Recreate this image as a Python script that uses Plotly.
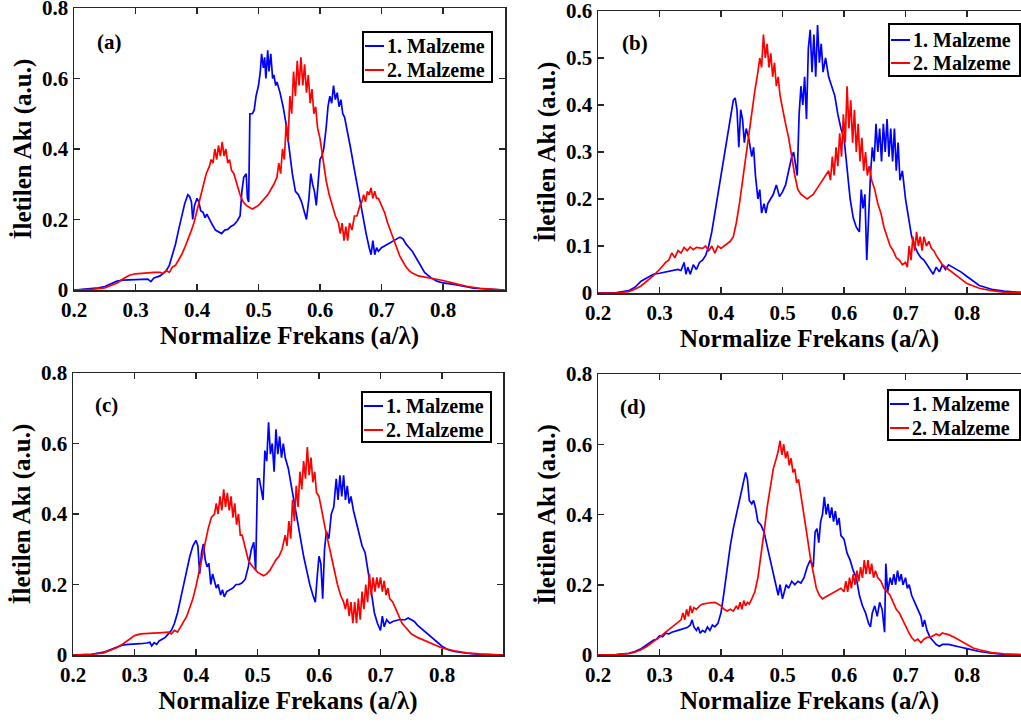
import plotly.graph_objects as go

# ---------------- data ----------------
A_BLUE = [(0.20,0),(0.22,0.002),(0.24,0.006),(0.25,0.01),(0.26,0.018),(0.27,0.025),(0.28,0.028),(0.30,0.03),(0.31,0.03),(0.32,0.031),(0.325,0.024),(0.33,0.034),(0.34,0.04),(0.35,0.055),(0.355,0.07),(0.36,0.10),(0.365,0.13),(0.37,0.17),(0.375,0.21),(0.38,0.245),(0.385,0.27),(0.388,0.265),(0.391,0.25),(0.393,0.20),(0.396,0.24),(0.40,0.26),(0.403,0.25),(0.406,0.225),(0.41,0.22),(0.413,0.205),(0.416,0.215),(0.42,0.20),(0.425,0.185),(0.43,0.17),(0.435,0.165),(0.44,0.16),(0.445,0.17),(0.45,0.172),(0.455,0.18),(0.46,0.185),(0.465,0.195),(0.47,0.21),(0.473,0.28),(0.476,0.32),(0.48,0.33),(0.482,0.26),(0.484,0.25),(0.486,0.50),(0.49,0.50),(0.493,0.51),(0.496,0.55),(0.50,0.58),(0.503,0.62),(0.505,0.67),(0.508,0.63),(0.51,0.66),(0.512,0.60),(0.515,0.68),(0.517,0.62),(0.52,0.67),(0.523,0.60),(0.525,0.61),(0.528,0.58),(0.53,0.59),(0.535,0.56),(0.54,0.52),(0.545,0.47),(0.55,0.40),(0.555,0.33),(0.56,0.28),(0.565,0.27),(0.57,0.25),(0.575,0.22),(0.578,0.20),(0.582,0.26),(0.585,0.33),(0.588,0.30),(0.591,0.28),(0.594,0.24),(0.597,0.30),(0.60,0.37),(0.603,0.38),(0.606,0.40),(0.61,0.46),(0.613,0.52),(0.616,0.55),(0.619,0.53),(0.622,0.58),(0.625,0.54),(0.628,0.56),(0.631,0.52),(0.634,0.54),(0.637,0.50),(0.64,0.49),(0.645,0.45),(0.65,0.40),(0.655,0.35),(0.66,0.30),(0.665,0.25),(0.67,0.20),(0.675,0.16),(0.68,0.12),(0.683,0.10),(0.686,0.14),(0.689,0.10),(0.692,0.12),(0.695,0.11),(0.70,0.12),(0.705,0.125),(0.71,0.13),(0.715,0.135),(0.72,0.14),(0.725,0.145),(0.73,0.15),(0.735,0.145),(0.74,0.13),(0.745,0.12),(0.75,0.11),(0.76,0.08),(0.77,0.05),(0.78,0.035),(0.79,0.025),(0.80,0.02),(0.82,0.015),(0.85,0.005),(0.88,0.001),(0.90,0)]

A_RED = [(0.20,0),(0.23,0.002),(0.25,0.006),(0.26,0.012),(0.27,0.02),(0.28,0.032),(0.29,0.042),(0.30,0.046),(0.31,0.048),(0.32,0.049),(0.33,0.05),(0.34,0.05),(0.345,0.047),(0.35,0.055),(0.355,0.05),(0.36,0.065),(0.365,0.07),(0.37,0.085),(0.375,0.10),(0.38,0.12),(0.385,0.14),(0.39,0.165),(0.395,0.19),(0.40,0.225),(0.405,0.26),(0.41,0.295),(0.415,0.33),(0.42,0.35),(0.423,0.37),(0.426,0.36),(0.429,0.40),(0.432,0.37),(0.435,0.41),(0.438,0.38),(0.441,0.42),(0.444,0.38),(0.447,0.40),(0.45,0.36),(0.453,0.37),(0.456,0.34),(0.46,0.33),(0.465,0.30),(0.47,0.27),(0.475,0.25),(0.48,0.24),(0.485,0.235),(0.49,0.23),(0.495,0.235),(0.50,0.24),(0.505,0.25),(0.51,0.26),(0.515,0.27),(0.52,0.285),(0.525,0.30),(0.53,0.32),(0.533,0.36),(0.536,0.33),(0.539,0.40),(0.542,0.37),(0.545,0.47),(0.548,0.42),(0.551,0.55),(0.554,0.50),(0.557,0.62),(0.56,0.55),(0.563,0.65),(0.566,0.58),(0.569,0.66),(0.572,0.58),(0.575,0.64),(0.578,0.56),(0.581,0.61),(0.584,0.53),(0.587,0.57),(0.59,0.50),(0.593,0.52),(0.596,0.46),(0.60,0.43),(0.605,0.37),(0.61,0.31),(0.615,0.27),(0.62,0.24),(0.625,0.21),(0.63,0.19),(0.633,0.16),(0.636,0.19),(0.639,0.14),(0.642,0.18),(0.645,0.14),(0.648,0.19),(0.652,0.17),(0.656,0.21),(0.66,0.21),(0.665,0.24),(0.668,0.25),(0.671,0.27),(0.674,0.25),(0.677,0.28),(0.68,0.27),(0.683,0.29),(0.686,0.26),(0.689,0.28),(0.692,0.26),(0.695,0.26),(0.70,0.24),(0.705,0.22),(0.71,0.19),(0.715,0.165),(0.72,0.14),(0.725,0.115),(0.73,0.095),(0.735,0.08),(0.74,0.065),(0.745,0.055),(0.75,0.048),(0.76,0.04),(0.77,0.037),(0.78,0.034),(0.79,0.031),(0.80,0.027),(0.82,0.018),(0.84,0.01),(0.86,0.005),(0.88,0.002),(0.90,0)]

B_BLUE = [(0.20,0),(0.23,0.001),(0.25,0.005),(0.26,0.012),(0.27,0.025),(0.28,0.033),(0.29,0.04),(0.30,0.042),(0.31,0.045),(0.32,0.047),(0.33,0.05),(0.335,0.048),(0.34,0.065),(0.343,0.04),(0.346,0.055),(0.35,0.04),(0.355,0.06),(0.36,0.05),(0.365,0.065),(0.37,0.07),(0.375,0.08),(0.38,0.10),(0.385,0.13),(0.39,0.17),(0.395,0.21),(0.40,0.25),(0.405,0.29),(0.41,0.33),(0.415,0.37),(0.42,0.41),(0.423,0.415),(0.426,0.39),(0.429,0.31),(0.432,0.39),(0.435,0.37),(0.438,0.32),(0.441,0.35),(0.445,0.33),(0.45,0.29),(0.453,0.31),(0.456,0.25),(0.46,0.20),(0.463,0.22),(0.466,0.17),(0.47,0.19),(0.473,0.17),(0.476,0.19),(0.48,0.20),(0.485,0.21),(0.49,0.23),(0.495,0.205),(0.50,0.215),(0.505,0.23),(0.51,0.26),(0.515,0.29),(0.518,0.30),(0.521,0.27),(0.524,0.25),(0.527,0.38),(0.53,0.44),(0.533,0.40),(0.536,0.46),(0.539,0.37),(0.542,0.52),(0.545,0.56),(0.548,0.47),(0.551,0.55),(0.554,0.46),(0.557,0.57),(0.56,0.49),(0.563,0.53),(0.566,0.47),(0.57,0.50),(0.575,0.46),(0.58,0.44),(0.585,0.42),(0.59,0.38),(0.595,0.35),(0.60,0.33),(0.605,0.27),(0.61,0.20),(0.615,0.16),(0.62,0.14),(0.625,0.13),(0.628,0.22),(0.631,0.18),(0.634,0.21),(0.637,0.07),(0.64,0.17),(0.643,0.25),(0.646,0.31),(0.649,0.28),(0.652,0.36),(0.655,0.30),(0.658,0.35),(0.661,0.28),(0.664,0.36),(0.667,0.30),(0.67,0.37),(0.673,0.29),(0.676,0.35),(0.679,0.28),(0.682,0.35),(0.685,0.26),(0.688,0.32),(0.691,0.24),(0.695,0.26),(0.70,0.20),(0.705,0.16),(0.71,0.12),(0.715,0.10),(0.72,0.085),(0.725,0.075),(0.73,0.07),(0.735,0.06),(0.74,0.05),(0.745,0.04),(0.75,0.055),(0.755,0.045),(0.76,0.06),(0.765,0.05),(0.77,0.06),(0.78,0.052),(0.79,0.045),(0.80,0.035),(0.81,0.025),(0.82,0.016),(0.84,0.008),(0.86,0.004),(0.88,0.002),(0.90,0)]

B_RED = [(0.20,0),(0.23,0.0),(0.25,0.003),(0.26,0.008),(0.27,0.015),(0.28,0.025),(0.29,0.037),(0.30,0.05),(0.31,0.065),(0.315,0.07),(0.32,0.085),(0.325,0.075),(0.33,0.09),(0.335,0.085),(0.34,0.097),(0.345,0.09),(0.35,0.098),(0.355,0.092),(0.36,0.097),(0.37,0.095),(0.375,0.10),(0.38,0.09),(0.385,0.10),(0.39,0.085),(0.395,0.10),(0.40,0.095),(0.405,0.10),(0.41,0.105),(0.415,0.11),(0.42,0.12),(0.425,0.15),(0.43,0.19),(0.435,0.24),(0.44,0.29),(0.445,0.34),(0.45,0.39),(0.455,0.43),(0.46,0.47),(0.463,0.50),(0.466,0.48),(0.469,0.55),(0.472,0.50),(0.475,0.53),(0.478,0.48),(0.481,0.51),(0.484,0.46),(0.487,0.49),(0.49,0.44),(0.493,0.46),(0.496,0.42),(0.50,0.39),(0.505,0.36),(0.51,0.33),(0.515,0.29),(0.52,0.25),(0.525,0.22),(0.53,0.21),(0.535,0.205),(0.54,0.20),(0.545,0.205),(0.55,0.21),(0.555,0.22),(0.56,0.23),(0.565,0.24),(0.57,0.25),(0.575,0.26),(0.578,0.24),(0.581,0.29),(0.584,0.25),(0.587,0.31),(0.59,0.27),(0.593,0.34),(0.596,0.29),(0.599,0.38),(0.602,0.32),(0.605,0.44),(0.608,0.35),(0.611,0.41),(0.614,0.32),(0.617,0.39),(0.62,0.30),(0.623,0.36),(0.626,0.28),(0.629,0.33),(0.632,0.26),(0.635,0.30),(0.638,0.25),(0.641,0.27),(0.645,0.24),(0.65,0.22),(0.655,0.19),(0.66,0.17),(0.665,0.14),(0.67,0.12),(0.675,0.10),(0.68,0.09),(0.685,0.075),(0.69,0.07),(0.695,0.06),(0.70,0.065),(0.703,0.055),(0.706,0.10),(0.709,0.07),(0.712,0.12),(0.715,0.09),(0.718,0.13),(0.721,0.10),(0.724,0.12),(0.727,0.09),(0.73,0.12),(0.734,0.10),(0.738,0.11),(0.742,0.095),(0.746,0.09),(0.75,0.08),(0.76,0.06),(0.77,0.05),(0.78,0.04),(0.79,0.03),(0.80,0.02),(0.82,0.01),(0.84,0.005),(0.86,0.002),(0.90,0)]

C_BLUE = [(0.20,0),(0.23,0.002),(0.25,0.008),(0.26,0.015),(0.27,0.023),(0.28,0.028),(0.29,0.03),(0.30,0.03),(0.31,0.032),(0.32,0.034),(0.325,0.036),(0.328,0.026),(0.332,0.035),(0.336,0.03),(0.34,0.04),(0.345,0.045),(0.35,0.05),(0.355,0.06),(0.36,0.07),(0.365,0.09),(0.37,0.12),(0.375,0.16),(0.38,0.20),(0.385,0.24),(0.39,0.28),(0.395,0.31),(0.40,0.325),(0.403,0.31),(0.406,0.23),(0.409,0.29),(0.412,0.315),(0.415,0.27),(0.418,0.25),(0.421,0.26),(0.424,0.20),(0.427,0.23),(0.43,0.21),(0.433,0.19),(0.436,0.20),(0.44,0.17),(0.443,0.185),(0.446,0.165),(0.45,0.18),(0.455,0.185),(0.46,0.19),(0.465,0.20),(0.47,0.20),(0.475,0.205),(0.48,0.215),(0.485,0.25),(0.49,0.30),(0.494,0.32),(0.497,0.24),(0.50,0.50),(0.503,0.50),(0.506,0.47),(0.509,0.44),(0.512,0.58),(0.515,0.55),(0.518,0.66),(0.521,0.57),(0.524,0.60),(0.527,0.52),(0.53,0.64),(0.533,0.57),(0.536,0.62),(0.539,0.56),(0.542,0.60),(0.545,0.56),(0.55,0.53),(0.555,0.48),(0.56,0.42),(0.565,0.37),(0.57,0.32),(0.575,0.28),(0.58,0.24),(0.585,0.20),(0.59,0.17),(0.594,0.15),(0.597,0.22),(0.60,0.28),(0.603,0.26),(0.606,0.16),(0.609,0.30),(0.612,0.35),(0.616,0.33),(0.62,0.40),(0.624,0.42),(0.628,0.50),(0.631,0.44),(0.634,0.51),(0.637,0.45),(0.64,0.51),(0.643,0.44),(0.646,0.48),(0.649,0.43),(0.652,0.45),(0.656,0.41),(0.66,0.38),(0.665,0.34),(0.67,0.31),(0.675,0.29),(0.68,0.24),(0.685,0.18),(0.69,0.12),(0.695,0.09),(0.70,0.07),(0.703,0.11),(0.706,0.08),(0.71,0.10),(0.715,0.09),(0.72,0.095),(0.73,0.10),(0.74,0.10),(0.745,0.105),(0.75,0.10),(0.755,0.095),(0.76,0.085),(0.77,0.07),(0.78,0.055),(0.79,0.04),(0.80,0.025),(0.81,0.015),(0.82,0.01),(0.84,0.005),(0.86,0.002),(0.90,0)]

C_RED = [(0.20,0),(0.23,0.002),(0.25,0.006),(0.26,0.012),(0.27,0.02),(0.28,0.03),(0.29,0.043),(0.30,0.055),(0.31,0.06),(0.32,0.062),(0.33,0.062),(0.34,0.063),(0.35,0.063),(0.355,0.065),(0.36,0.06),(0.365,0.07),(0.37,0.065),(0.375,0.08),(0.38,0.095),(0.385,0.11),(0.39,0.135),(0.395,0.16),(0.40,0.195),(0.405,0.235),(0.41,0.28),(0.415,0.32),(0.42,0.36),(0.425,0.39),(0.43,0.40),(0.433,0.43),(0.436,0.40),(0.439,0.45),(0.442,0.41),(0.445,0.47),(0.448,0.42),(0.451,0.46),(0.454,0.41),(0.457,0.45),(0.46,0.39),(0.463,0.43),(0.466,0.37),(0.469,0.40),(0.472,0.34),(0.475,0.34),(0.48,0.30),(0.485,0.27),(0.49,0.255),(0.495,0.245),(0.50,0.235),(0.505,0.23),(0.51,0.225),(0.515,0.23),(0.52,0.24),(0.525,0.255),(0.53,0.27),(0.535,0.28),(0.54,0.30),(0.545,0.34),(0.548,0.31),(0.551,0.38),(0.554,0.33),(0.557,0.44),(0.56,0.38),(0.563,0.48),(0.566,0.42),(0.569,0.52),(0.572,0.47),(0.575,0.55),(0.578,0.50),(0.581,0.59),(0.584,0.51),(0.587,0.56),(0.59,0.49),(0.593,0.52),(0.596,0.46),(0.60,0.45),(0.605,0.40),(0.61,0.36),(0.615,0.32),(0.62,0.28),(0.625,0.24),(0.63,0.20),(0.635,0.17),(0.64,0.15),(0.643,0.13),(0.646,0.16),(0.649,0.11),(0.652,0.15),(0.655,0.09),(0.658,0.15),(0.661,0.09),(0.664,0.16),(0.667,0.10),(0.67,0.18),(0.673,0.13),(0.676,0.20),(0.679,0.15),(0.682,0.23),(0.685,0.17),(0.688,0.22),(0.691,0.18),(0.694,0.22),(0.697,0.19),(0.70,0.22),(0.703,0.18),(0.706,0.21),(0.709,0.17),(0.712,0.19),(0.715,0.16),(0.72,0.15),(0.725,0.13),(0.73,0.11),(0.735,0.09),(0.74,0.08),(0.745,0.07),(0.75,0.06),(0.76,0.05),(0.77,0.042),(0.78,0.035),(0.79,0.027),(0.80,0.02),(0.82,0.012),(0.84,0.006),(0.86,0.003),(0.88,0.001),(0.90,0)]

D_BLUE = [(0.20,0),(0.23,0.001),(0.25,0.005),(0.26,0.01),(0.27,0.018),(0.28,0.03),(0.29,0.042),(0.295,0.045),(0.30,0.055),(0.305,0.052),(0.31,0.062),(0.315,0.06),(0.32,0.065),(0.33,0.07),(0.34,0.075),(0.345,0.078),(0.35,0.085),(0.353,0.10),(0.356,0.08),(0.36,0.07),(0.363,0.08),(0.366,0.062),(0.37,0.07),(0.374,0.065),(0.378,0.08),(0.382,0.07),(0.386,0.085),(0.39,0.08),(0.395,0.09),(0.40,0.12),(0.405,0.18),(0.41,0.25),(0.415,0.31),(0.42,0.36),(0.425,0.40),(0.43,0.44),(0.435,0.48),(0.44,0.52),(0.443,0.50),(0.446,0.44),(0.45,0.43),(0.453,0.44),(0.456,0.42),(0.46,0.38),(0.465,0.37),(0.47,0.35),(0.475,0.31),(0.48,0.27),(0.485,0.23),(0.49,0.19),(0.493,0.17),(0.496,0.20),(0.50,0.16),(0.503,0.18),(0.506,0.20),(0.51,0.19),(0.515,0.21),(0.52,0.20),(0.525,0.21),(0.53,0.205),(0.535,0.22),(0.54,0.25),(0.545,0.27),(0.55,0.25),(0.553,0.35),(0.556,0.36),(0.559,0.32),(0.562,0.38),(0.565,0.40),(0.568,0.45),(0.571,0.40),(0.574,0.43),(0.577,0.39),(0.58,0.42),(0.583,0.38),(0.586,0.41),(0.589,0.37),(0.592,0.39),(0.595,0.34),(0.60,0.33),(0.605,0.29),(0.61,0.27),(0.615,0.24),(0.62,0.22),(0.625,0.17),(0.63,0.14),(0.635,0.12),(0.64,0.09),(0.643,0.08),(0.646,0.12),(0.65,0.14),(0.654,0.11),(0.658,0.15),(0.662,0.13),(0.666,0.065),(0.668,0.26),(0.671,0.18),(0.675,0.22),(0.678,0.20),(0.681,0.23),(0.684,0.20),(0.687,0.24),(0.69,0.21),(0.693,0.23),(0.696,0.20),(0.70,0.22),(0.703,0.19),(0.706,0.20),(0.71,0.17),(0.715,0.15),(0.72,0.13),(0.725,0.11),(0.728,0.08),(0.731,0.10),(0.735,0.07),(0.74,0.05),(0.745,0.04),(0.75,0.03),(0.755,0.025),(0.76,0.03),(0.77,0.03),(0.78,0.025),(0.79,0.022),(0.80,0.018),(0.82,0.01),(0.84,0.005),(0.86,0.002),(0.90,0)]

D_RED = [(0.20,0),(0.23,0.001),(0.25,0.004),(0.26,0.008),(0.27,0.015),(0.28,0.025),(0.29,0.038),(0.30,0.05),(0.31,0.065),(0.32,0.08),(0.33,0.095),(0.335,0.10),(0.338,0.12),(0.341,0.10),(0.344,0.13),(0.347,0.11),(0.35,0.14),(0.353,0.12),(0.356,0.135),(0.36,0.13),(0.365,0.14),(0.37,0.145),(0.38,0.148),(0.39,0.15),(0.395,0.145),(0.40,0.14),(0.405,0.13),(0.41,0.125),(0.415,0.13),(0.42,0.125),(0.425,0.14),(0.428,0.13),(0.431,0.15),(0.434,0.13),(0.437,0.155),(0.44,0.14),(0.443,0.15),(0.446,0.145),(0.45,0.16),(0.455,0.18),(0.46,0.22),(0.465,0.28),(0.47,0.35),(0.475,0.42),(0.48,0.48),(0.485,0.53),(0.49,0.56),(0.493,0.58),(0.496,0.61),(0.499,0.57),(0.502,0.60),(0.505,0.56),(0.508,0.58),(0.511,0.54),(0.514,0.56),(0.517,0.52),(0.52,0.53),(0.523,0.49),(0.526,0.50),(0.53,0.45),(0.535,0.40),(0.54,0.34),(0.545,0.28),(0.55,0.23),(0.555,0.19),(0.56,0.17),(0.565,0.16),(0.57,0.165),(0.575,0.17),(0.58,0.175),(0.585,0.18),(0.59,0.185),(0.595,0.19),(0.60,0.18),(0.603,0.21),(0.606,0.18),(0.609,0.22),(0.612,0.19),(0.615,0.23),(0.618,0.20),(0.621,0.24),(0.624,0.21),(0.627,0.25),(0.63,0.22),(0.633,0.27),(0.636,0.23),(0.639,0.27),(0.642,0.23),(0.645,0.26),(0.648,0.22),(0.651,0.24),(0.655,0.22),(0.66,0.21),(0.665,0.19),(0.67,0.18),(0.675,0.17),(0.68,0.15),(0.685,0.13),(0.69,0.12),(0.695,0.10),(0.70,0.08),(0.705,0.065),(0.71,0.05),(0.715,0.04),(0.72,0.045),(0.725,0.035),(0.73,0.045),(0.735,0.05),(0.74,0.05),(0.745,0.055),(0.75,0.06),(0.755,0.055),(0.76,0.063),(0.765,0.06),(0.77,0.058),(0.78,0.05),(0.79,0.04),(0.80,0.03),(0.81,0.02),(0.82,0.015),(0.84,0.007),(0.86,0.003),(0.88,0.001),(0.90,0)]

PANEL_LABELS = ["(a)", "(b)", "(c)", "(d)"]
SERIES_NAMES = ["1. Malzeme", "2. Malzeme"]
X_TICKS = [0.2, 0.3, 0.4, 0.5, 0.6, 0.7, 0.8]
Y_TICKS_08 = [0, 0.2, 0.4, 0.6, 0.8]
Y_TICKS_06 = [0, 0.1, 0.2, 0.3, 0.4, 0.5, 0.6]
X_TITLE = "Normalize Frekans (a/λ)"
Y_TITLE = "İletilen Akı (a.u.)"

# ---------------- layout ----------------
W, H = 1021, 725
FONT = "Liberation Serif"
BLUE, RED = "#0000ff", "#ff0000"
AX = "#262626"
PX_PER_UNIT = 615.0

# (left px, right px, top px, bottom px, ymax, yticks, full box, label data xy,
#  legend box px (l, t, r, b), legend text rows px)
SPECS = [
    (74, 505, 8, 290, 0.8, Y_TICKS_08, True, (0.2585, 0.703), (363, 32, 492, 82), (46, 70), A_BLUE, A_RED),
    (598, 1021, 11, 293, 0.6, Y_TICKS_06, False, (0.260, 0.532), (889, 24, 1020, 76), (40, 63), B_BLUE, B_RED),
    (73, 503, 373, 655, 0.8, Y_TICKS_08, True, (0.255, 0.709), (362, 392, 491, 442), (406, 430), C_BLUE, C_RED),
    (598, 1021, 374, 655, 0.8, Y_TICKS_08, False, (0.257, 0.706), (888, 390, 1020, 440), (404, 428), D_BLUE, D_RED),
]

def px(xp):
    return xp / W

def py(yp):
    return 1 - yp / H

fig = go.Figure()
layout = dict(
    width=W, height=H, margin=dict(l=0, r=0, t=0, b=0, autoexpand=False),
    paper_bgcolor="white", plot_bgcolor="white", showlegend=False,
    annotations=[], shapes=[],
)
tickfont = dict(family=FONT, size=21, color="black", weight="bold")
titlefont = dict(family=FONT, size=25, color="black", weight="bold")
legfont = dict(family=FONT, size=20, color="black", weight="bold")

for i, (l, r, t, b, ymax, yticks, full, lab, box, rows, blue, red) in enumerate(SPECS):
    sfx = "" if i == 0 else str(i + 1)
    xa, ya = "x" + sfx, "y" + sfx
    xmax = 0.2 + (r - l) / PX_PER_UNIT
    for data, color, name in ((blue, BLUE, SERIES_NAMES[0]), (red, RED, SERIES_NAMES[1])):
        xs = [p[0] for p in data]
        ys = [p[1] for p in data]
        fig.add_trace(go.Scatter(
            x=xs, y=ys, mode="lines", name=name,
            line=dict(color=color, width=1.7),
            xaxis=xa, yaxis=ya, hoverinfo="skip",
        ))
    layout["xaxis" + sfx] = dict(
        domain=[l / W, min(r / W, 1.0)], range=[0.2, xmax], anchor=ya,
        tickmode="array", tickvals=X_TICKS, ticktext=[f"{v:.1f}" for v in X_TICKS],
        ticks="inside", ticklen=6, tickwidth=1.5, tickcolor=AX,
        showline=True, linecolor=AX, linewidth=1.5, mirror="ticks",
        showgrid=False, zeroline=False, tickfont=tickfont, ticklabeloverflow="allow",
        title=dict(text=X_TITLE, font=titlefont, standoff=6),
    )
    layout["yaxis" + sfx] = dict(
        domain=[1 - b / H, 1 - t / H], range=[0, ymax], anchor=xa,
        tickmode="array", tickvals=yticks,
        ticktext=["0" if v == 0 else f"{v:.1f}" for v in yticks],
        ticks="inside", ticklen=6, tickwidth=1.5, tickcolor=AX,
        showline=True, linecolor=AX, linewidth=1.5,
        mirror="ticks" if full else False,
        showgrid=False, zeroline=False, tickfont=tickfont, ticklabeloverflow="allow",
        title=dict(text=Y_TITLE, font=titlefont, standoff=3),
    )
    layout["annotations"].append(dict(
        x=lab[0], y=lab[1], xref=xa, yref=ya, text=PANEL_LABELS[i],
        showarrow=False, xanchor="center", yanchor="middle",
        font=dict(family=FONT, size=21, color="black", weight="bold"),
    ))
    # legend box (drawn as shapes + text so its size matches the original)
    bl, bt, br, bb = box
    layout["shapes"].append(dict(
        type="rect", xref="paper", yref="paper",
        x0=px(bl), x1=px(br), y0=py(bb), y1=py(bt),
        line=dict(color="black", width=2), fillcolor="white", layer="above",
    ))
    for row_y, color, name in ((rows[0], BLUE, SERIES_NAMES[0]), (rows[1], RED, SERIES_NAMES[1])):
        layout["shapes"].append(dict(
            type="line", xref="paper", yref="paper",
            x0=px(bl + 2), x1=px(bl + 21), y0=py(row_y), y1=py(row_y),
            line=dict(color=color, width=2), layer="above",
        ))
        layout["annotations"].append(dict(
            x=px(bl + 22), y=py(row_y), xref="paper", yref="paper",
            text=name, showarrow=False, xanchor="left", yanchor="middle",
            font=legfont,
        ))

fig.update_layout(**layout)
fig.write_html(
    "out.html",
    config={"displayModeBar": False, "staticPlot": True},
    post_script="document.body.style.margin='0';",
)
